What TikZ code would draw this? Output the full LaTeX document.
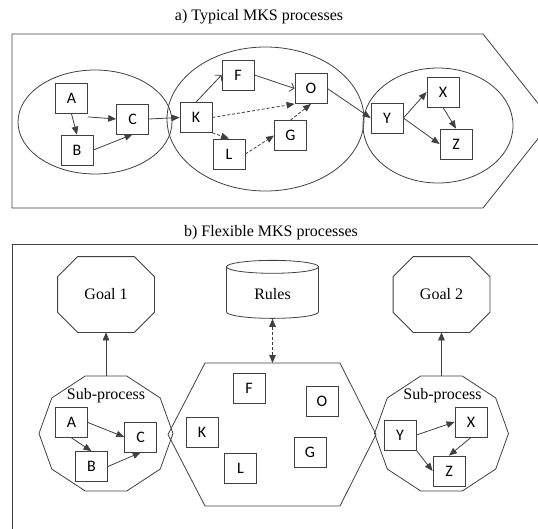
\documentclass[tikz,border=0pt]{standalone}
\usepackage{fontspec}
\setmainfont{Liberation Serif}
\newfontfamily\boxfont{Carlito}
\usetikzlibrary{arrows.meta,shapes.geometric}

% octagon with cut corners round a goal node
\newcommand{\goalframe}[1]{%
	\draw ([xshift=20pt]#1.north west) -- ([xshift=-20pt]#1.north east) -- ([yshift=-20pt]#1.north east)
		-- ([yshift=20pt]#1.south east) -- ([xshift=-20pt]#1.south east) -- ([xshift=20pt]#1.south west)
		-- ([yshift=20pt]#1.south west) -- ([yshift=-20pt]#1.north west) -- cycle;}

\begin{document}
\begin{tikzpicture}[x=1pt, y=-1pt, line width=0.8pt, draw=black!75,
	mbox/.style={draw=black!75, fill=white, minimum width=32pt, minimum height=30pt, inner sep=0pt, font=\boxfont\fontsize{16}{16}\selectfont},
	tip/.style={-{Triangle[length=8pt,width=6.5pt]}},
	barb/.style={-{Straight Barb[length=4pt,width=9pt]}},
	dsh/.style={dash pattern=on 3pt off 2pt},
	ttl/.style={font=\rmfamily\fontsize{16}{18}\selectfont},
	goal/.style={minimum width=96pt, minimum height=75pt, inner sep=0pt, font=\rmfamily\fontsize{16}{18}\selectfont}]
	\useasboundingbox (0,0) rectangle (538,528);
	\clip (0,0) rectangle (538,528);

	% a) typical processes
	\node[ttl] (titlea) at (259,17) {a) Typical MKS processes};
	\draw (12,34) -- (483,34) -- (552,121) -- (483,208) -- (12,208) -- cycle;
	\draw (95,122) ellipse (77pt and 52pt);
	\draw (265.5,119) ellipse (98.5pt and 72pt);
	\draw (438,125.5) ellipse (75pt and 57.5pt);

	\node[mbox] (a1) at (71.5,98.5) {A};
	\node[mbox] (b1) at (77,150) {B};
	\node[mbox] (c1) at (132.6,119) {C};
	\node[mbox] (k1) at (196,117.5) {K};
	\node[mbox] (f1) at (238,75) {F};
	\node[mbox] (o1) at (311,88.5) {O};
	\node[mbox] (l1) at (229,154) {L};
	\node[mbox] (g1) at (290.5,135.5) {G};
	\node[mbox] (y1) at (387,118) {Y};
	\node[mbox] (x1) at (443,92) {X};
	\node[mbox] (z1) at (456,144) {Z};

	\draw[tip] (a1.south) -- (b1.north);
	\draw[tip] (a1.south east) ++(0,-3pt) -- (c1.west);
	\draw[tip] (b1.east) -- (c1.south);
	\draw[tip] (c1.east) -- (k1.west);
	\draw[barb] (k1.north) -- (f1.west);
	\draw[barb] (f1.east) -- (o1.west);
	\draw[tip, dsh] (k1.east) -- (o1.south west);
	\draw[tip, dsh] (k1.south east) -- (l1.north);
	\draw[tip, dsh] (l1.east) -- (g1.west);
	\draw[tip, dsh] (g1.north) -- (o1.south);
	\draw[tip] (o1.east) -- (y1.west);
	\draw[tip] (y1.east) -- (x1.west);
	\draw[tip] (y1.east) -- (z1.west);
	\draw[tip] (x1.south) -- (z1.north);

	% b) flexible processes
	\node[ttl] (titleb) at (271,233) {b) Flexible MKS processes};
	\draw (12,560) -- (12,244) -- (560,244);

	\node[goal] (goal1) at (106,294.5) {Goal 1};
	\node[goal] (goal2) at (441.5,294.5) {Goal 2};
	\goalframe{goal1}
	\goalframe{goal2}
	\node[cylinder, draw, shape border rotate=90, aspect=0.3, minimum width=92pt, minimum height=58pt,
		font=\rmfamily\fontsize{16}{18}\selectfont] (rules) at (272.5,294) {Rules};

	% sub-processes and the pool between them
	\foreach \cx in {106,441.5} {
		\begin{scope}[shift={(\cx,433.5)}]
			\draw (0:67pt and 60.5pt) \foreach \a in {36,72,...,324} { -- (\a:67pt and 60.5pt) } -- cycle;
		\end{scope}
	}
	\draw (205,363) -- (340,363) -- (376,434.5) -- (340,506) -- (205,506) -- (168,434.5) -- cycle;
	\coordinate (sub1) at (106,376);
	\coordinate (sub2) at (441.5,376);
	\coordinate (pool) at (272.5,363);
	\node[ttl] (lbl1) at (106,396) {Sub-process};
	\node[ttl] (lbl2) at (442.5,396) {Sub-process};

	\draw[tip] (sub1) -- (goal1);
	\draw[tip] (sub2) -- (goal2);
	\draw[dsh, {Triangle[length=8pt,width=6.5pt]}-{Triangle[length=8pt,width=6.5pt]}] (rules) -- (pool);

	\node[mbox] (a2) at (71.5,422.5) {A};
	\node[mbox] (b2) at (91.5,466.5) {B};
	\node[mbox] (c2) at (140.7,437) {C};
	\node[mbox] (f2) at (249,388) {F};
	\node[mbox] (o2) at (322,401.5) {O};
	\node[mbox] (k2) at (202,432) {K};
	\node[mbox] (l2) at (240.5,468) {L};
	\node[mbox] (g2) at (310,452) {G};
	\node[mbox] (y2) at (400,435) {Y};
	\node[mbox] (x2) at (471,422) {X};
	\node[mbox] (z2) at (449,471) {Z};

	\draw[tip] (a2.south) -- (b2.north);
	\draw[tip] (a2.east) -- (c2.west);
	\draw[tip] (b2.east) -- (c2.south);
	\draw[tip] (y2.east) -- (x2.west);
	\draw[tip] (y2.south east) -- (z2.west);
	\draw[tip] (x2.south) -- (z2.north);
\end{tikzpicture}
\end{document}
